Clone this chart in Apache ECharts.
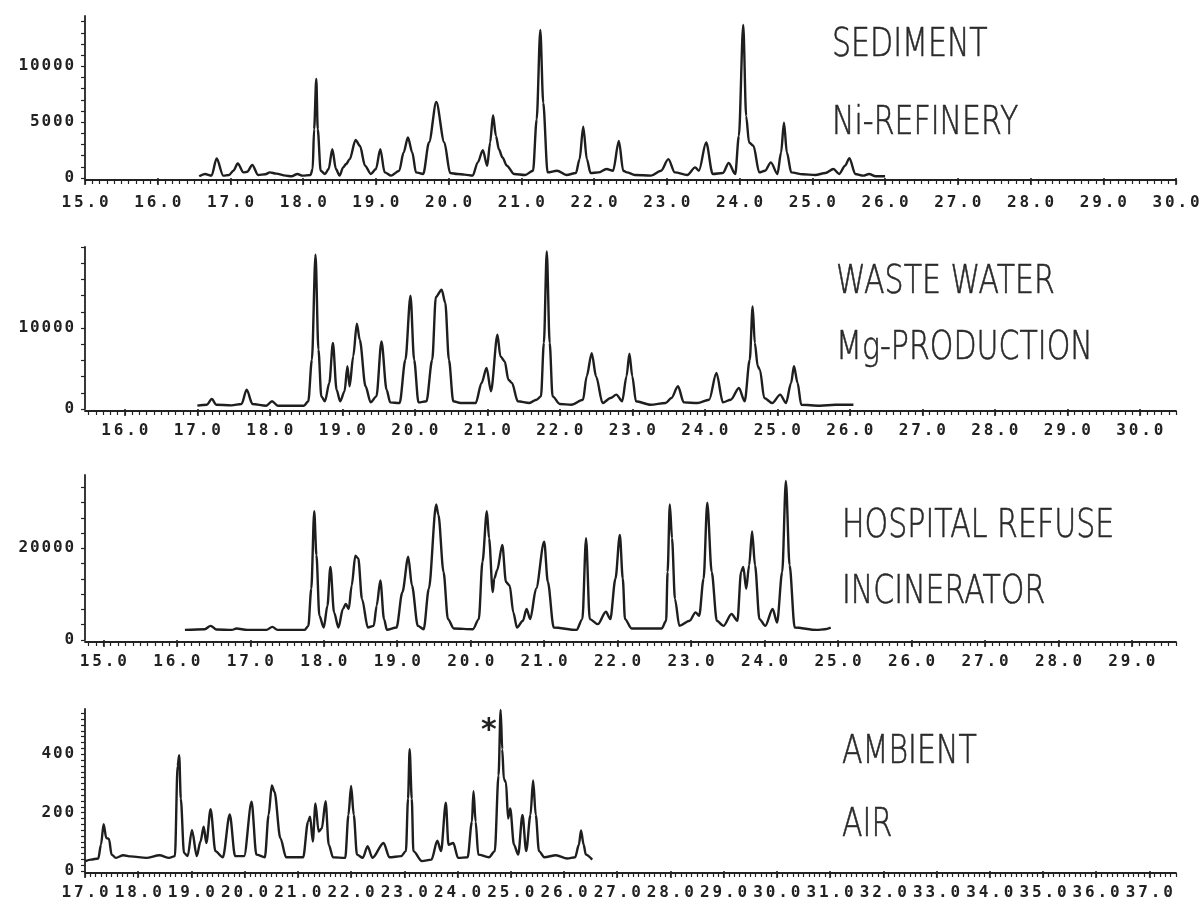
<!DOCTYPE html>
<html><head><meta charset="utf-8">
<script src="https://cdn.jsdelivr.net/npm/echarts@6/dist/echarts.min.js"></script>
<style>html,body{margin:0;padding:0;background:#fff}#c{width:1204px;height:909px}</style>
</head><body><div id="c"></div>
<script>
// ---- data: [retention time, signal] ----
const sediment = [[16.57,150],[16.65,360],[16.74,210],[16.81,1750],[16.9,210],[16.98,270],[17.04,650],[17.1,1300],[17.18,500],[17.23,560],[17.3,1160],[17.38,270],[17.48,330],[17.54,500],[17.63,390],[17.76,210],[17.84,150],[17.92,360],[17.99,210],[18.1,270],[18.13,800],[18.15,4360],[18.18,8870],[18.2,4360],[18.24,650],[18.3,360],[18.35,800],[18.4,2580],[18.45,800],[18.5,210],[18.55,950],[18.59,1250],[18.64,1690],[18.72,3410],[18.78,2880],[18.85,1100],[18.93,360],[19.0,800],[19.06,2580],[19.12,500],[19.21,210],[19.32,650],[19.38,2280],[19.44,3620],[19.5,2280],[19.55,500],[19.65,360],[19.73,3180],[19.83,6800],[19.94,3180],[20.02,450],[20.12,360],[20.22,300],[20.33,210],[20.4,1400],[20.47,2490],[20.53,1100],[20.57,3180],[20.61,5610],[20.65,3770],[20.69,2580],[20.74,1840],[20.8,1100],[20.9,360],[21.05,270],[21.16,650],[21.21,5250],[21.26,13260],[21.3,6740],[21.36,500],[21.49,650],[21.62,270],[21.75,450],[21.8,1690],[21.85,4600],[21.9,1690],[21.95,450],[22.06,500],[22.17,800],[22.26,650],[22.34,3320],[22.4,650],[22.45,500],[22.56,270],[22.78,210],[22.92,650],[23.02,1690],[23.11,500],[23.28,270],[23.39,950],[23.44,650],[23.54,3180],[23.63,360],[23.77,450],[23.85,1340],[23.94,360],[23.99,3770],[24.05,13710],[24.09,5550],[24.13,3180],[24.19,2880],[24.27,500],[24.35,650],[24.43,1400],[24.52,360],[24.57,2280],[24.61,4960],[24.65,2280],[24.71,500],[24.87,330],[25.04,270],[25.18,450],[25.29,800],[25.37,360],[25.45,1100],[25.51,1780],[25.59,360],[25.7,210],[25.78,360],[25.87,150],[26.0,150]];

const wasteWater = [[17.0,410],[17.13,530],[17.2,1230],[17.26,530],[17.47,450],[17.61,620],[17.68,2390],[17.76,620],[17.95,410],[18.03,950],[18.11,410],[18.47,410],[18.53,950],[18.58,6090],[18.63,19050],[18.67,7330],[18.71,1560],[18.76,950],[18.82,3210],[18.87,8150],[18.92,2390],[18.97,950],[19.03,2180],[19.07,5270],[19.1,2800],[19.15,6500],[19.2,10530],[19.24,8560],[19.32,2800],[19.39,820],[19.47,1560],[19.54,8350],[19.61,2390],[19.66,820],[19.79,740],[19.87,6090],[19.94,13990],[19.99,6090],[20.05,820],[20.16,950],[20.24,6090],[20.29,13830],[20.37,14730],[20.42,13090],[20.47,6090],[20.53,950],[20.63,740],[20.84,740],[20.92,3210],[20.99,5060],[21.05,2180],[21.14,9180],[21.18,6500],[21.24,5880],[21.29,3620],[21.34,3210],[21.42,950],[21.58,740],[21.68,1150],[21.74,1560],[21.78,8150],[21.82,19460],[21.86,8150],[21.9,1560],[22.0,620],[22.16,530],[22.32,1150],[22.37,4030],[22.44,6900],[22.5,4030],[22.59,740],[22.7,1360],[22.78,1770],[22.86,950],[22.92,4030],[22.96,6830],[23.0,4030],[23.05,950],[23.25,530],[23.46,740],[23.54,1360],[23.63,2800],[23.71,820],[23.9,740],[24.06,1150],[24.16,4440],[24.25,820],[24.36,1150],[24.47,2590],[24.55,950],[24.62,6090],[24.66,12670],[24.69,8150],[24.73,5270],[24.76,4860],[24.82,1360],[24.93,740],[25.04,1770],[25.12,740],[25.19,3210],[25.23,5270],[25.28,3210],[25.33,530],[25.59,410],[25.8,530],[26.05,530]];

const hospital = [[16.11,2200],[16.38,2350],[16.46,3090],[16.54,2280],[16.75,2200],[16.81,2500],[16.96,2200],[17.22,2200],[17.3,2870],[17.37,2200],[17.74,2200],[17.79,3090],[17.83,11180],[17.87,28090],[17.9,18530],[17.94,5290],[18.0,2720],[18.05,7500],[18.09,15960],[18.14,6030],[18.2,2720],[18.26,6760],[18.3,7870],[18.34,6760],[18.38,11910],[18.43,18380],[18.47,17790],[18.52,8970],[18.6,2720],[18.68,3090],[18.72,7500],[18.77,13010],[18.82,4560],[18.86,2200],[18.99,2720],[19.07,10440],[19.15,18160],[19.2,11910],[19.28,3090],[19.36,2350],[19.43,11180],[19.53,29560],[19.56,27350],[19.63,14850],[19.69,4560],[19.77,2500],[20.03,2350],[20.11,4560],[20.16,17060],[20.22,28090],[20.25,22210],[20.3,10440],[20.32,13380],[20.36,15220],[20.43,20740],[20.48,12650],[20.53,11910],[20.58,6030],[20.63,2720],[20.71,4190],[20.76,6760],[20.81,4560],[20.89,11180],[21.0,21470],[21.05,12650],[21.13,2720],[21.44,2200],[21.52,4560],[21.57,22200],[21.62,4560],[21.73,3460],[21.84,6180],[21.9,4560],[21.97,13380],[22.03,22940],[22.07,13380],[22.1,4560],[22.19,2500],[22.6,2500],[22.66,4190],[22.68,14850],[22.71,29560],[22.74,22210],[22.78,8970],[22.84,3090],[22.98,4190],[23.06,6030],[23.11,5290],[23.17,13380],[23.22,29930],[23.28,14850],[23.35,4190],[23.44,3090],[23.55,5660],[23.63,4190],[23.68,14850],[23.71,15960],[23.75,11180],[23.79,16320],[23.83,23680],[23.87,16320],[23.93,4560],[24.01,3090],[24.11,6760],[24.17,3820],[24.24,14850],[24.29,34710],[24.34,16320],[24.41,2720],[24.71,2200],[24.82,2350],[24.9,2720]];

const ambientAir = [[17.01,34],[17.11,39],[17.25,43],[17.3,90],[17.35,160],[17.4,113],[17.45,110],[17.5,56],[17.58,45],[17.72,54],[17.86,50],[18.15,45],[18.4,54],[18.58,45],[18.69,51],[18.74,360],[18.77,397],[18.8,248],[18.86,62],[18.93,51],[19.01,141],[19.1,51],[19.17,101],[19.23,152],[19.28,96],[19.36,212],[19.45,68],[19.59,47],[19.72,194],[19.82,51],[19.99,51],[20.13,237],[20.22,56],[20.38,47],[20.45,192],[20.51,293],[20.56,272],[20.67,113],[20.78,47],[21.1,47],[21.19,169],[21.23,186],[21.28,101],[21.33,231],[21.39,135],[21.45,146],[21.52,239],[21.58,90],[21.66,47],[21.89,45],[21.95,192],[22.0,291],[22.05,192],[22.11,56],[22.22,45],[22.31,85],[22.4,45],[22.61,96],[22.72,47],[22.94,51],[23.03,68],[23.07,248],[23.1,417],[23.14,248],[23.17,68],[23.33,34],[23.51,39],[23.62,104],[23.69,68],[23.78,234],[23.83,90],[23.92,96],[24.01,45],[24.19,47],[24.27,169],[24.3,273],[24.34,169],[24.39,56],[24.59,47],[24.7,68],[24.77,327],[24.81,552],[24.84,417],[24.87,315],[24.91,304],[24.95,180],[24.99,214],[25.06,90],[25.14,56],[25.22,192],[25.29,68],[25.37,192],[25.42,310],[25.47,192],[25.53,68],[25.63,47],[25.85,54],[26.06,43],[26.21,47],[26.28,90],[26.32,139],[26.37,90],[26.41,56],[26.53,39]];

const asteriskAt = [24.59, 480];

// ---- tick labels ----
const sedimentXTicks = [15,16,17,18,19,20,21,22,23,24,25,26,27,28,29,30];
const wasteXTicks = [16,17,18,19,20,21,22,23,24,25,26,27,28,29,30];
const hospitalXTicks = [15,16,17,18,19,20,21,22,23,24,25,26,27,28,29];
const ambientXTicks = [17,18,19,20,21,22,23,24,25,26,27,28,29,30,31,32,33,34,35,36,37];
const sedimentYTicks = [0,5000,10000];
const wasteYTicks = [0,10000];
const hospitalYTicks = [0,20000];
const ambientYTicks = [0,200,400];

// ---- panel captions ----
const captions = [['SEDIMENT','Ni-REFINERY'],['WASTE WATER','Mg-PRODUCTION'],['HOSPITAL REFUSE','INCINERATOR'],['AMBIENT','AIR']];

// ---- layout ----
const LEFT = 85, RIGHT = 28;
const panels = [
  {data: sediment,   xTicks: sedimentXTicks, yTicks: sedimentYTicks, xMin: 15,    xMax: 30,   yMax: 14500, yStep: 1000,    top: 16,  height: 162, lblMargin: 15, capX: 832, capY: [46, 124]},
  {data: wasteWater, xTicks: wasteXTicks,    yTicks: wasteYTicks,    xMin: 15.45, xMax: 30.5, yMax: 20000, yStep: 2000,    top: 247, height: 162, lblMargin: 12, capX: 836, capY: [283, 349]},
  {data: hospital,   xTicks: hospitalXTicks, yTicks: hospitalYTicks, xMin: 14.75, xMax: 29.6, yMax: 36000, yStep: 20000/6, top: 475, height: 165, lblMargin: 12, capX: 842, capY: [527, 593]},
  {data: ambientAir, xTicks: ambientXTicks,  yTicks: ambientYTicks,  xMin: 17,    xMax: 37.5, yMax: 555,   yStep: 20,      top: 709, height: 162, lblMargin: 12, capX: 842, capY: [753, 826]}
];

function tenths(a, b) {
  const out = [];
  for (let k = Math.ceil(a * 10 - 1e-6); k <= Math.floor(b * 10 + 1e-6); k++) out.push(k / 10);
  return out;
}
function steps(max, step) {
  const out = [];
  for (let k = 0; k * step <= max + 1e-6; k++) out.push(k * step);
  return out;
}
// wide dot-matrix look: every character in its own fixed-width cell
function cells(str, key) {
  return str.split('').map(ch => '{' + key + '|' + ch + '}').join('');
}

const INK = '#222';
const cellFont = {fontFamily: 'DejaVu Sans Mono', fontWeight: 'bold', fontSize: 16, color: INK, align: 'center'};
const xRich = {x: Object.assign({width: 12.5}, cellFont)};
const yRich = {y: Object.assign({width: 11.5}, cellFont)};

const grid = [], xAxis = [], yAxis = [], series = [], graphic = [];
panels.forEach((p, i) => {
  grid.push({left: LEFT, right: RIGHT, top: p.top, height: p.height});
  // main axis: integer ticks + labels
  xAxis.push({
    type: 'value', gridIndex: i, position: 'bottom', offset: 2, min: p.xMin, max: p.xMax,
    axisLine: {show: false}, splitLine: {show: false},
    axisTick: {show: true, length: 7, customValues: p.xTicks, lineStyle: {color: INK, width: 1.6}},
    axisLabel: {show: true, margin: p.lblMargin, customValues: p.xTicks, formatter: v => cells(v.toFixed(1), 'x'), rich: xRich, color: INK}
  });
  // secondary axis: line + 0.1 ticks
  xAxis.push({
    type: 'value', gridIndex: i, position: 'bottom', offset: 2, min: p.xMin, max: p.xMax,
    axisLine: {show: true, lineStyle: {color: INK, width: 1.8}}, splitLine: {show: false},
    axisTick: {show: true, length: 4, customValues: tenths(p.xMin, p.xMax), lineStyle: {color: INK, width: 1.2}},
    axisLabel: {show: false}
  });
  yAxis.push({
    type: 'value', gridIndex: i, min: 0, max: p.yMax, splitLine: {show: false},
    axisLine: {show: true, lineStyle: {color: INK, width: 1.8}},
    axisTick: {show: true, length: 4, customValues: steps(p.yMax, p.yStep), lineStyle: {color: INK, width: 1.2}},
    axisLabel: {show: true, margin: 10, customValues: p.yTicks, formatter: v => cells(String(v), 'y'), rich: yRich, color: INK}
  });
  const s = {
    type: 'line', xAxisIndex: 2 * i, yAxisIndex: i, data: p.data, showSymbol: false,
    smooth: 0.3, smoothMonotone: 'x',
    lineStyle: {color: '#1e1e1e', width: 2.4}, silent: true
  };
  if (i === 3) {
    s.markPoint = {
      symbol: 'circle', symbolSize: 1, itemStyle: {color: 'rgba(0,0,0,0)'},
      label: {show: true, position: 'inside', formatter: '*', fontSize: 30, fontWeight: 'bold', fontFamily: 'DejaVu Sans', color: INK},
      data: [{coord: asteriskAt}]
    };
  }
  series.push(s);
  captions[i].forEach((t, j) => {
    graphic.push({
      type: 'text', x: p.capX, y: p.capY[j], scaleX: 0.77, z: 100,
      style: {text: t, fontSize: 39, fontFamily: 'DejaVu Sans', fontWeight: 200, fill: '#2a2a2a',
              stroke: '#2a2a2a', lineWidth: 0.6, verticalAlign: 'middle', textAlign: 'left'}
    });
  });
});

const chart = echarts.init(document.getElementById('c'), null, {renderer: 'canvas'});
chart.setOption({animation: false, backgroundColor: '#fff', grid, xAxis, yAxis, series, graphic});
</script>
</body></html>
